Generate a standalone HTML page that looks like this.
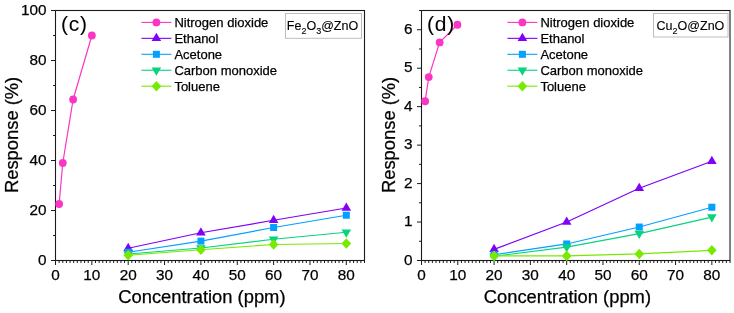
<!DOCTYPE html>
<html><head><meta charset="utf-8"><style>
html,body{margin:0;padding:0;background:#fff;}
svg{display:block;will-change:transform;}
text{font-family:"Liberation Sans",sans-serif;fill:#000;stroke:#000;stroke-width:0.25px;}
.tk{font-size:15.3px;}
.ti{font-size:18.35px;}
.lg{font-size:13px;}
.lb{font-size:21px;stroke-width:0.05px;}
.bx{font-size:12.5px;stroke-width:0.12px;}
.sb{font-size:9px;}
</style></head><body>
<svg width="734" height="313" viewBox="0 0 734 313">
<rect x="55.5" y="10.5" width="309.0" height="250.0" fill="none" stroke="#1a1a1a" stroke-width="1.1"/>
<line x1="55.50" y1="260.5" x2="55.50" y2="265.0" stroke="#1a1a1a" stroke-width="1"/>
<line x1="59.14" y1="260.5" x2="59.14" y2="263.0" stroke="#1a1a1a" stroke-width="1"/>
<line x1="62.77" y1="260.5" x2="62.77" y2="263.0" stroke="#1a1a1a" stroke-width="1"/>
<line x1="66.41" y1="260.5" x2="66.41" y2="263.0" stroke="#1a1a1a" stroke-width="1"/>
<line x1="70.04" y1="260.5" x2="70.04" y2="263.0" stroke="#1a1a1a" stroke-width="1"/>
<line x1="73.68" y1="260.5" x2="73.68" y2="263.0" stroke="#1a1a1a" stroke-width="1"/>
<line x1="77.31" y1="260.5" x2="77.31" y2="263.0" stroke="#1a1a1a" stroke-width="1"/>
<line x1="80.95" y1="260.5" x2="80.95" y2="263.0" stroke="#1a1a1a" stroke-width="1"/>
<line x1="84.58" y1="260.5" x2="84.58" y2="263.0" stroke="#1a1a1a" stroke-width="1"/>
<line x1="88.22" y1="260.5" x2="88.22" y2="263.0" stroke="#1a1a1a" stroke-width="1"/>
<line x1="91.85" y1="260.5" x2="91.85" y2="265.0" stroke="#1a1a1a" stroke-width="1"/>
<line x1="95.49" y1="260.5" x2="95.49" y2="263.0" stroke="#1a1a1a" stroke-width="1"/>
<line x1="99.12" y1="260.5" x2="99.12" y2="263.0" stroke="#1a1a1a" stroke-width="1"/>
<line x1="102.76" y1="260.5" x2="102.76" y2="263.0" stroke="#1a1a1a" stroke-width="1"/>
<line x1="106.39" y1="260.5" x2="106.39" y2="263.0" stroke="#1a1a1a" stroke-width="1"/>
<line x1="110.03" y1="260.5" x2="110.03" y2="263.0" stroke="#1a1a1a" stroke-width="1"/>
<line x1="113.66" y1="260.5" x2="113.66" y2="263.0" stroke="#1a1a1a" stroke-width="1"/>
<line x1="117.30" y1="260.5" x2="117.30" y2="263.0" stroke="#1a1a1a" stroke-width="1"/>
<line x1="120.94" y1="260.5" x2="120.94" y2="263.0" stroke="#1a1a1a" stroke-width="1"/>
<line x1="124.57" y1="260.5" x2="124.57" y2="263.0" stroke="#1a1a1a" stroke-width="1"/>
<line x1="128.21" y1="260.5" x2="128.21" y2="265.0" stroke="#1a1a1a" stroke-width="1"/>
<line x1="131.84" y1="260.5" x2="131.84" y2="263.0" stroke="#1a1a1a" stroke-width="1"/>
<line x1="135.48" y1="260.5" x2="135.48" y2="263.0" stroke="#1a1a1a" stroke-width="1"/>
<line x1="139.11" y1="260.5" x2="139.11" y2="263.0" stroke="#1a1a1a" stroke-width="1"/>
<line x1="142.75" y1="260.5" x2="142.75" y2="263.0" stroke="#1a1a1a" stroke-width="1"/>
<line x1="146.38" y1="260.5" x2="146.38" y2="263.0" stroke="#1a1a1a" stroke-width="1"/>
<line x1="150.02" y1="260.5" x2="150.02" y2="263.0" stroke="#1a1a1a" stroke-width="1"/>
<line x1="153.65" y1="260.5" x2="153.65" y2="263.0" stroke="#1a1a1a" stroke-width="1"/>
<line x1="157.29" y1="260.5" x2="157.29" y2="263.0" stroke="#1a1a1a" stroke-width="1"/>
<line x1="160.92" y1="260.5" x2="160.92" y2="263.0" stroke="#1a1a1a" stroke-width="1"/>
<line x1="164.56" y1="260.5" x2="164.56" y2="265.0" stroke="#1a1a1a" stroke-width="1"/>
<line x1="168.19" y1="260.5" x2="168.19" y2="263.0" stroke="#1a1a1a" stroke-width="1"/>
<line x1="171.83" y1="260.5" x2="171.83" y2="263.0" stroke="#1a1a1a" stroke-width="1"/>
<line x1="175.46" y1="260.5" x2="175.46" y2="263.0" stroke="#1a1a1a" stroke-width="1"/>
<line x1="179.10" y1="260.5" x2="179.10" y2="263.0" stroke="#1a1a1a" stroke-width="1"/>
<line x1="182.74" y1="260.5" x2="182.74" y2="263.0" stroke="#1a1a1a" stroke-width="1"/>
<line x1="186.37" y1="260.5" x2="186.37" y2="263.0" stroke="#1a1a1a" stroke-width="1"/>
<line x1="190.01" y1="260.5" x2="190.01" y2="263.0" stroke="#1a1a1a" stroke-width="1"/>
<line x1="193.64" y1="260.5" x2="193.64" y2="263.0" stroke="#1a1a1a" stroke-width="1"/>
<line x1="197.28" y1="260.5" x2="197.28" y2="263.0" stroke="#1a1a1a" stroke-width="1"/>
<line x1="200.91" y1="260.5" x2="200.91" y2="265.0" stroke="#1a1a1a" stroke-width="1"/>
<line x1="204.55" y1="260.5" x2="204.55" y2="263.0" stroke="#1a1a1a" stroke-width="1"/>
<line x1="208.18" y1="260.5" x2="208.18" y2="263.0" stroke="#1a1a1a" stroke-width="1"/>
<line x1="211.82" y1="260.5" x2="211.82" y2="263.0" stroke="#1a1a1a" stroke-width="1"/>
<line x1="215.45" y1="260.5" x2="215.45" y2="263.0" stroke="#1a1a1a" stroke-width="1"/>
<line x1="219.09" y1="260.5" x2="219.09" y2="263.0" stroke="#1a1a1a" stroke-width="1"/>
<line x1="222.72" y1="260.5" x2="222.72" y2="263.0" stroke="#1a1a1a" stroke-width="1"/>
<line x1="226.36" y1="260.5" x2="226.36" y2="263.0" stroke="#1a1a1a" stroke-width="1"/>
<line x1="229.99" y1="260.5" x2="229.99" y2="263.0" stroke="#1a1a1a" stroke-width="1"/>
<line x1="233.63" y1="260.5" x2="233.63" y2="263.0" stroke="#1a1a1a" stroke-width="1"/>
<line x1="237.26" y1="260.5" x2="237.26" y2="265.0" stroke="#1a1a1a" stroke-width="1"/>
<line x1="240.90" y1="260.5" x2="240.90" y2="263.0" stroke="#1a1a1a" stroke-width="1"/>
<line x1="244.54" y1="260.5" x2="244.54" y2="263.0" stroke="#1a1a1a" stroke-width="1"/>
<line x1="248.17" y1="260.5" x2="248.17" y2="263.0" stroke="#1a1a1a" stroke-width="1"/>
<line x1="251.81" y1="260.5" x2="251.81" y2="263.0" stroke="#1a1a1a" stroke-width="1"/>
<line x1="255.44" y1="260.5" x2="255.44" y2="263.0" stroke="#1a1a1a" stroke-width="1"/>
<line x1="259.08" y1="260.5" x2="259.08" y2="263.0" stroke="#1a1a1a" stroke-width="1"/>
<line x1="262.71" y1="260.5" x2="262.71" y2="263.0" stroke="#1a1a1a" stroke-width="1"/>
<line x1="266.35" y1="260.5" x2="266.35" y2="263.0" stroke="#1a1a1a" stroke-width="1"/>
<line x1="269.98" y1="260.5" x2="269.98" y2="263.0" stroke="#1a1a1a" stroke-width="1"/>
<line x1="273.62" y1="260.5" x2="273.62" y2="265.0" stroke="#1a1a1a" stroke-width="1"/>
<line x1="277.25" y1="260.5" x2="277.25" y2="263.0" stroke="#1a1a1a" stroke-width="1"/>
<line x1="280.89" y1="260.5" x2="280.89" y2="263.0" stroke="#1a1a1a" stroke-width="1"/>
<line x1="284.52" y1="260.5" x2="284.52" y2="263.0" stroke="#1a1a1a" stroke-width="1"/>
<line x1="288.16" y1="260.5" x2="288.16" y2="263.0" stroke="#1a1a1a" stroke-width="1"/>
<line x1="291.79" y1="260.5" x2="291.79" y2="263.0" stroke="#1a1a1a" stroke-width="1"/>
<line x1="295.43" y1="260.5" x2="295.43" y2="263.0" stroke="#1a1a1a" stroke-width="1"/>
<line x1="299.06" y1="260.5" x2="299.06" y2="263.0" stroke="#1a1a1a" stroke-width="1"/>
<line x1="302.70" y1="260.5" x2="302.70" y2="263.0" stroke="#1a1a1a" stroke-width="1"/>
<line x1="306.34" y1="260.5" x2="306.34" y2="263.0" stroke="#1a1a1a" stroke-width="1"/>
<line x1="309.97" y1="260.5" x2="309.97" y2="265.0" stroke="#1a1a1a" stroke-width="1"/>
<line x1="313.61" y1="260.5" x2="313.61" y2="263.0" stroke="#1a1a1a" stroke-width="1"/>
<line x1="317.24" y1="260.5" x2="317.24" y2="263.0" stroke="#1a1a1a" stroke-width="1"/>
<line x1="320.88" y1="260.5" x2="320.88" y2="263.0" stroke="#1a1a1a" stroke-width="1"/>
<line x1="324.51" y1="260.5" x2="324.51" y2="263.0" stroke="#1a1a1a" stroke-width="1"/>
<line x1="328.15" y1="260.5" x2="328.15" y2="263.0" stroke="#1a1a1a" stroke-width="1"/>
<line x1="331.78" y1="260.5" x2="331.78" y2="263.0" stroke="#1a1a1a" stroke-width="1"/>
<line x1="335.42" y1="260.5" x2="335.42" y2="263.0" stroke="#1a1a1a" stroke-width="1"/>
<line x1="339.05" y1="260.5" x2="339.05" y2="263.0" stroke="#1a1a1a" stroke-width="1"/>
<line x1="342.69" y1="260.5" x2="342.69" y2="263.0" stroke="#1a1a1a" stroke-width="1"/>
<line x1="346.32" y1="260.5" x2="346.32" y2="265.0" stroke="#1a1a1a" stroke-width="1"/>
<line x1="349.96" y1="260.5" x2="349.96" y2="263.0" stroke="#1a1a1a" stroke-width="1"/>
<line x1="353.59" y1="260.5" x2="353.59" y2="263.0" stroke="#1a1a1a" stroke-width="1"/>
<line x1="357.23" y1="260.5" x2="357.23" y2="263.0" stroke="#1a1a1a" stroke-width="1"/>
<line x1="360.86" y1="260.5" x2="360.86" y2="263.0" stroke="#1a1a1a" stroke-width="1"/>
<line x1="364.50" y1="260.5" x2="364.50" y2="263.0" stroke="#1a1a1a" stroke-width="1"/>
<line x1="51.0" y1="260.50" x2="55.5" y2="260.50" stroke="#1a1a1a" stroke-width="1"/>
<line x1="53.0" y1="235.50" x2="55.5" y2="235.50" stroke="#1a1a1a" stroke-width="1"/>
<line x1="51.0" y1="210.50" x2="55.5" y2="210.50" stroke="#1a1a1a" stroke-width="1"/>
<line x1="53.0" y1="185.50" x2="55.5" y2="185.50" stroke="#1a1a1a" stroke-width="1"/>
<line x1="51.0" y1="160.50" x2="55.5" y2="160.50" stroke="#1a1a1a" stroke-width="1"/>
<line x1="53.0" y1="135.50" x2="55.5" y2="135.50" stroke="#1a1a1a" stroke-width="1"/>
<line x1="51.0" y1="110.50" x2="55.5" y2="110.50" stroke="#1a1a1a" stroke-width="1"/>
<line x1="53.0" y1="85.50" x2="55.5" y2="85.50" stroke="#1a1a1a" stroke-width="1"/>
<line x1="51.0" y1="60.50" x2="55.5" y2="60.50" stroke="#1a1a1a" stroke-width="1"/>
<line x1="53.0" y1="35.50" x2="55.5" y2="35.50" stroke="#1a1a1a" stroke-width="1"/>
<line x1="51.0" y1="10.50" x2="55.5" y2="10.50" stroke="#1a1a1a" stroke-width="1"/>
<text x="55.50" y="279.8" text-anchor="middle" class="tk">0</text>
<text x="91.85" y="279.8" text-anchor="middle" class="tk">10</text>
<text x="128.21" y="279.8" text-anchor="middle" class="tk">20</text>
<text x="164.56" y="279.8" text-anchor="middle" class="tk">30</text>
<text x="200.91" y="279.8" text-anchor="middle" class="tk">40</text>
<text x="237.26" y="279.8" text-anchor="middle" class="tk">50</text>
<text x="273.62" y="279.8" text-anchor="middle" class="tk">60</text>
<text x="309.97" y="279.8" text-anchor="middle" class="tk">70</text>
<text x="346.32" y="279.8" text-anchor="middle" class="tk">80</text>
<text x="46.6" y="264.60" text-anchor="end" class="tk">0</text>
<text x="46.6" y="214.60" text-anchor="end" class="tk">20</text>
<text x="46.6" y="164.60" text-anchor="end" class="tk">40</text>
<text x="46.6" y="114.60" text-anchor="end" class="tk">60</text>
<text x="46.6" y="64.60" text-anchor="end" class="tk">80</text>
<text x="46.6" y="14.60" text-anchor="end" class="tk">100</text>
<text x="201.9" y="302.6" text-anchor="middle" class="ti">Concentration (ppm)</text>
<text transform="translate(17.8,134.9) rotate(-90)" text-anchor="middle" class="ti">Response (%)</text>
<polyline points="59.14,204.00 62.77,163.00 73.13,99.50 91.85,35.50" fill="none" stroke="#fb36c2" stroke-width="1.2"/>
<circle cx="59.14" cy="204.00" r="3.9" fill="#fb36c2"/>
<circle cx="62.77" cy="163.00" r="3.9" fill="#fb36c2"/>
<circle cx="73.13" cy="99.50" r="3.9" fill="#fb36c2"/>
<circle cx="91.85" cy="35.50" r="3.9" fill="#fb36c2"/>
<polyline points="128.21,248.25 200.91,232.75 273.62,220.25 346.32,208.00" fill="none" stroke="#8000f8" stroke-width="1.2"/>
<path d="M128.21 242.72L133.01 251.02L123.41 251.02Z" fill="#8000f8"/>
<path d="M200.91 227.22L205.71 235.52L196.11 235.52Z" fill="#8000f8"/>
<path d="M273.62 214.72L278.42 223.02L268.82 223.02Z" fill="#8000f8"/>
<path d="M346.32 202.47L351.12 210.77L341.52 210.77Z" fill="#8000f8"/>
<polyline points="128.21,252.25 200.91,241.12 273.62,227.50 346.32,215.25" fill="none" stroke="#04a0ff" stroke-width="1.2"/>
<rect x="124.71" y="248.75" width="7" height="7" fill="#04a0ff"/>
<rect x="197.41" y="237.62" width="7" height="7" fill="#04a0ff"/>
<rect x="270.12" y="224.00" width="7" height="7" fill="#04a0ff"/>
<rect x="342.82" y="211.75" width="7" height="7" fill="#04a0ff"/>
<polyline points="128.21,254.00 200.91,248.00 273.62,239.25 346.32,232.25" fill="none" stroke="#06d47e" stroke-width="1.2"/>
<path d="M128.21 259.53L133.01 251.23L123.41 251.23Z" fill="#06d47e"/>
<path d="M200.91 253.53L205.71 245.23L196.11 245.23Z" fill="#06d47e"/>
<path d="M273.62 244.78L278.42 236.48L268.82 236.48Z" fill="#06d47e"/>
<path d="M346.32 237.78L351.12 229.48L341.52 229.48Z" fill="#06d47e"/>
<polyline points="128.21,255.25 200.91,249.75 273.62,244.50 346.32,243.50" fill="none" stroke="#78ea00" stroke-width="1.2"/>
<path d="M128.21 249.95L133.01 255.25L128.21 260.55L123.41 255.25Z" fill="#78ea00"/>
<path d="M200.91 244.45L205.71 249.75L200.91 255.05L196.11 249.75Z" fill="#78ea00"/>
<path d="M273.62 239.20L278.42 244.50L273.62 249.80L268.82 244.50Z" fill="#78ea00"/>
<path d="M346.32 238.20L351.12 243.50L346.32 248.80L341.52 243.50Z" fill="#78ea00"/>
<line x1="141.4" y1="22.40" x2="171.4" y2="22.40" stroke="#fb36c2" stroke-width="1.1"/>
<circle cx="156.40" cy="22.40" r="3.9" fill="#fb36c2"/>
<text x="174.4" y="26.80" class="lg">Nitrogen dioxide</text>
<line x1="141.4" y1="38.35" x2="171.4" y2="38.35" stroke="#8000f8" stroke-width="1.1"/>
<path d="M156.40 32.82L161.20 41.12L151.60 41.12Z" fill="#8000f8"/>
<text x="174.4" y="42.75" class="lg">Ethanol</text>
<line x1="141.4" y1="54.30" x2="171.4" y2="54.30" stroke="#04a0ff" stroke-width="1.1"/>
<rect x="152.90" y="50.80" width="7" height="7" fill="#04a0ff"/>
<text x="174.4" y="58.70" class="lg">Acetone</text>
<line x1="141.4" y1="70.25" x2="171.4" y2="70.25" stroke="#06d47e" stroke-width="1.1"/>
<path d="M156.40 75.78L161.20 67.48L151.60 67.48Z" fill="#06d47e"/>
<text x="174.4" y="74.65" class="lg">Carbon monoxide</text>
<line x1="141.4" y1="86.20" x2="171.4" y2="86.20" stroke="#78ea00" stroke-width="1.1"/>
<path d="M156.40 80.90L161.20 86.20L156.40 91.50L151.60 86.20Z" fill="#78ea00"/>
<text x="174.4" y="90.60" class="lg">Toluene</text>
<text x="60.9" y="31.1" class="lb" letter-spacing="0.8">(c)</text>
<rect x="285.5" y="13.5" width="76" height="24.8" fill="#fff" stroke="#bdbdbd" stroke-width="1"/>
<text x="286.8" y="29.9" class="bx">Fe<tspan dy="4" class="sb">2</tspan><tspan dy="-4">O</tspan><tspan dy="4" class="sb">3</tspan><tspan dy="-4">@ZnO</tspan></text>
<rect x="421.5" y="10.5" width="308.5" height="250.0" fill="none" stroke="#1a1a1a" stroke-width="1.1"/>
<line x1="421.50" y1="260.5" x2="421.50" y2="265.0" stroke="#1a1a1a" stroke-width="1"/>
<line x1="425.13" y1="260.5" x2="425.13" y2="263.0" stroke="#1a1a1a" stroke-width="1"/>
<line x1="428.76" y1="260.5" x2="428.76" y2="263.0" stroke="#1a1a1a" stroke-width="1"/>
<line x1="432.39" y1="260.5" x2="432.39" y2="263.0" stroke="#1a1a1a" stroke-width="1"/>
<line x1="436.02" y1="260.5" x2="436.02" y2="263.0" stroke="#1a1a1a" stroke-width="1"/>
<line x1="439.65" y1="260.5" x2="439.65" y2="263.0" stroke="#1a1a1a" stroke-width="1"/>
<line x1="443.28" y1="260.5" x2="443.28" y2="263.0" stroke="#1a1a1a" stroke-width="1"/>
<line x1="446.91" y1="260.5" x2="446.91" y2="263.0" stroke="#1a1a1a" stroke-width="1"/>
<line x1="450.54" y1="260.5" x2="450.54" y2="263.0" stroke="#1a1a1a" stroke-width="1"/>
<line x1="454.16" y1="260.5" x2="454.16" y2="263.0" stroke="#1a1a1a" stroke-width="1"/>
<line x1="457.79" y1="260.5" x2="457.79" y2="265.0" stroke="#1a1a1a" stroke-width="1"/>
<line x1="461.42" y1="260.5" x2="461.42" y2="263.0" stroke="#1a1a1a" stroke-width="1"/>
<line x1="465.05" y1="260.5" x2="465.05" y2="263.0" stroke="#1a1a1a" stroke-width="1"/>
<line x1="468.68" y1="260.5" x2="468.68" y2="263.0" stroke="#1a1a1a" stroke-width="1"/>
<line x1="472.31" y1="260.5" x2="472.31" y2="263.0" stroke="#1a1a1a" stroke-width="1"/>
<line x1="475.94" y1="260.5" x2="475.94" y2="263.0" stroke="#1a1a1a" stroke-width="1"/>
<line x1="479.57" y1="260.5" x2="479.57" y2="263.0" stroke="#1a1a1a" stroke-width="1"/>
<line x1="483.20" y1="260.5" x2="483.20" y2="263.0" stroke="#1a1a1a" stroke-width="1"/>
<line x1="486.83" y1="260.5" x2="486.83" y2="263.0" stroke="#1a1a1a" stroke-width="1"/>
<line x1="490.46" y1="260.5" x2="490.46" y2="263.0" stroke="#1a1a1a" stroke-width="1"/>
<line x1="494.09" y1="260.5" x2="494.09" y2="265.0" stroke="#1a1a1a" stroke-width="1"/>
<line x1="497.72" y1="260.5" x2="497.72" y2="263.0" stroke="#1a1a1a" stroke-width="1"/>
<line x1="501.35" y1="260.5" x2="501.35" y2="263.0" stroke="#1a1a1a" stroke-width="1"/>
<line x1="504.98" y1="260.5" x2="504.98" y2="263.0" stroke="#1a1a1a" stroke-width="1"/>
<line x1="508.61" y1="260.5" x2="508.61" y2="263.0" stroke="#1a1a1a" stroke-width="1"/>
<line x1="512.24" y1="260.5" x2="512.24" y2="263.0" stroke="#1a1a1a" stroke-width="1"/>
<line x1="515.86" y1="260.5" x2="515.86" y2="263.0" stroke="#1a1a1a" stroke-width="1"/>
<line x1="519.49" y1="260.5" x2="519.49" y2="263.0" stroke="#1a1a1a" stroke-width="1"/>
<line x1="523.12" y1="260.5" x2="523.12" y2="263.0" stroke="#1a1a1a" stroke-width="1"/>
<line x1="526.75" y1="260.5" x2="526.75" y2="263.0" stroke="#1a1a1a" stroke-width="1"/>
<line x1="530.38" y1="260.5" x2="530.38" y2="265.0" stroke="#1a1a1a" stroke-width="1"/>
<line x1="534.01" y1="260.5" x2="534.01" y2="263.0" stroke="#1a1a1a" stroke-width="1"/>
<line x1="537.64" y1="260.5" x2="537.64" y2="263.0" stroke="#1a1a1a" stroke-width="1"/>
<line x1="541.27" y1="260.5" x2="541.27" y2="263.0" stroke="#1a1a1a" stroke-width="1"/>
<line x1="544.90" y1="260.5" x2="544.90" y2="263.0" stroke="#1a1a1a" stroke-width="1"/>
<line x1="548.53" y1="260.5" x2="548.53" y2="263.0" stroke="#1a1a1a" stroke-width="1"/>
<line x1="552.16" y1="260.5" x2="552.16" y2="263.0" stroke="#1a1a1a" stroke-width="1"/>
<line x1="555.79" y1="260.5" x2="555.79" y2="263.0" stroke="#1a1a1a" stroke-width="1"/>
<line x1="559.42" y1="260.5" x2="559.42" y2="263.0" stroke="#1a1a1a" stroke-width="1"/>
<line x1="563.05" y1="260.5" x2="563.05" y2="263.0" stroke="#1a1a1a" stroke-width="1"/>
<line x1="566.68" y1="260.5" x2="566.68" y2="265.0" stroke="#1a1a1a" stroke-width="1"/>
<line x1="570.31" y1="260.5" x2="570.31" y2="263.0" stroke="#1a1a1a" stroke-width="1"/>
<line x1="573.94" y1="260.5" x2="573.94" y2="263.0" stroke="#1a1a1a" stroke-width="1"/>
<line x1="577.56" y1="260.5" x2="577.56" y2="263.0" stroke="#1a1a1a" stroke-width="1"/>
<line x1="581.19" y1="260.5" x2="581.19" y2="263.0" stroke="#1a1a1a" stroke-width="1"/>
<line x1="584.82" y1="260.5" x2="584.82" y2="263.0" stroke="#1a1a1a" stroke-width="1"/>
<line x1="588.45" y1="260.5" x2="588.45" y2="263.0" stroke="#1a1a1a" stroke-width="1"/>
<line x1="592.08" y1="260.5" x2="592.08" y2="263.0" stroke="#1a1a1a" stroke-width="1"/>
<line x1="595.71" y1="260.5" x2="595.71" y2="263.0" stroke="#1a1a1a" stroke-width="1"/>
<line x1="599.34" y1="260.5" x2="599.34" y2="263.0" stroke="#1a1a1a" stroke-width="1"/>
<line x1="602.97" y1="260.5" x2="602.97" y2="265.0" stroke="#1a1a1a" stroke-width="1"/>
<line x1="606.60" y1="260.5" x2="606.60" y2="263.0" stroke="#1a1a1a" stroke-width="1"/>
<line x1="610.23" y1="260.5" x2="610.23" y2="263.0" stroke="#1a1a1a" stroke-width="1"/>
<line x1="613.86" y1="260.5" x2="613.86" y2="263.0" stroke="#1a1a1a" stroke-width="1"/>
<line x1="617.49" y1="260.5" x2="617.49" y2="263.0" stroke="#1a1a1a" stroke-width="1"/>
<line x1="621.12" y1="260.5" x2="621.12" y2="263.0" stroke="#1a1a1a" stroke-width="1"/>
<line x1="624.75" y1="260.5" x2="624.75" y2="263.0" stroke="#1a1a1a" stroke-width="1"/>
<line x1="628.38" y1="260.5" x2="628.38" y2="263.0" stroke="#1a1a1a" stroke-width="1"/>
<line x1="632.01" y1="260.5" x2="632.01" y2="263.0" stroke="#1a1a1a" stroke-width="1"/>
<line x1="635.64" y1="260.5" x2="635.64" y2="263.0" stroke="#1a1a1a" stroke-width="1"/>
<line x1="639.26" y1="260.5" x2="639.26" y2="265.0" stroke="#1a1a1a" stroke-width="1"/>
<line x1="642.89" y1="260.5" x2="642.89" y2="263.0" stroke="#1a1a1a" stroke-width="1"/>
<line x1="646.52" y1="260.5" x2="646.52" y2="263.0" stroke="#1a1a1a" stroke-width="1"/>
<line x1="650.15" y1="260.5" x2="650.15" y2="263.0" stroke="#1a1a1a" stroke-width="1"/>
<line x1="653.78" y1="260.5" x2="653.78" y2="263.0" stroke="#1a1a1a" stroke-width="1"/>
<line x1="657.41" y1="260.5" x2="657.41" y2="263.0" stroke="#1a1a1a" stroke-width="1"/>
<line x1="661.04" y1="260.5" x2="661.04" y2="263.0" stroke="#1a1a1a" stroke-width="1"/>
<line x1="664.67" y1="260.5" x2="664.67" y2="263.0" stroke="#1a1a1a" stroke-width="1"/>
<line x1="668.30" y1="260.5" x2="668.30" y2="263.0" stroke="#1a1a1a" stroke-width="1"/>
<line x1="671.93" y1="260.5" x2="671.93" y2="263.0" stroke="#1a1a1a" stroke-width="1"/>
<line x1="675.56" y1="260.5" x2="675.56" y2="265.0" stroke="#1a1a1a" stroke-width="1"/>
<line x1="679.19" y1="260.5" x2="679.19" y2="263.0" stroke="#1a1a1a" stroke-width="1"/>
<line x1="682.82" y1="260.5" x2="682.82" y2="263.0" stroke="#1a1a1a" stroke-width="1"/>
<line x1="686.45" y1="260.5" x2="686.45" y2="263.0" stroke="#1a1a1a" stroke-width="1"/>
<line x1="690.08" y1="260.5" x2="690.08" y2="263.0" stroke="#1a1a1a" stroke-width="1"/>
<line x1="693.71" y1="260.5" x2="693.71" y2="263.0" stroke="#1a1a1a" stroke-width="1"/>
<line x1="697.34" y1="260.5" x2="697.34" y2="263.0" stroke="#1a1a1a" stroke-width="1"/>
<line x1="700.96" y1="260.5" x2="700.96" y2="263.0" stroke="#1a1a1a" stroke-width="1"/>
<line x1="704.59" y1="260.5" x2="704.59" y2="263.0" stroke="#1a1a1a" stroke-width="1"/>
<line x1="708.22" y1="260.5" x2="708.22" y2="263.0" stroke="#1a1a1a" stroke-width="1"/>
<line x1="711.85" y1="260.5" x2="711.85" y2="265.0" stroke="#1a1a1a" stroke-width="1"/>
<line x1="715.48" y1="260.5" x2="715.48" y2="263.0" stroke="#1a1a1a" stroke-width="1"/>
<line x1="719.11" y1="260.5" x2="719.11" y2="263.0" stroke="#1a1a1a" stroke-width="1"/>
<line x1="722.74" y1="260.5" x2="722.74" y2="263.0" stroke="#1a1a1a" stroke-width="1"/>
<line x1="726.37" y1="260.5" x2="726.37" y2="263.0" stroke="#1a1a1a" stroke-width="1"/>
<line x1="730.00" y1="260.5" x2="730.00" y2="263.0" stroke="#1a1a1a" stroke-width="1"/>
<line x1="417.0" y1="260.50" x2="421.5" y2="260.50" stroke="#1a1a1a" stroke-width="1"/>
<line x1="419.0" y1="241.27" x2="421.5" y2="241.27" stroke="#1a1a1a" stroke-width="1"/>
<line x1="417.0" y1="222.04" x2="421.5" y2="222.04" stroke="#1a1a1a" stroke-width="1"/>
<line x1="419.0" y1="202.81" x2="421.5" y2="202.81" stroke="#1a1a1a" stroke-width="1"/>
<line x1="417.0" y1="183.58" x2="421.5" y2="183.58" stroke="#1a1a1a" stroke-width="1"/>
<line x1="419.0" y1="164.35" x2="421.5" y2="164.35" stroke="#1a1a1a" stroke-width="1"/>
<line x1="417.0" y1="145.12" x2="421.5" y2="145.12" stroke="#1a1a1a" stroke-width="1"/>
<line x1="419.0" y1="125.88" x2="421.5" y2="125.88" stroke="#1a1a1a" stroke-width="1"/>
<line x1="417.0" y1="106.65" x2="421.5" y2="106.65" stroke="#1a1a1a" stroke-width="1"/>
<line x1="419.0" y1="87.42" x2="421.5" y2="87.42" stroke="#1a1a1a" stroke-width="1"/>
<line x1="417.0" y1="68.19" x2="421.5" y2="68.19" stroke="#1a1a1a" stroke-width="1"/>
<line x1="419.0" y1="48.96" x2="421.5" y2="48.96" stroke="#1a1a1a" stroke-width="1"/>
<line x1="417.0" y1="29.73" x2="421.5" y2="29.73" stroke="#1a1a1a" stroke-width="1"/>
<line x1="419.0" y1="10.50" x2="421.5" y2="10.50" stroke="#1a1a1a" stroke-width="1"/>
<text x="421.50" y="279.8" text-anchor="middle" class="tk">0</text>
<text x="457.79" y="279.8" text-anchor="middle" class="tk">10</text>
<text x="494.09" y="279.8" text-anchor="middle" class="tk">20</text>
<text x="530.38" y="279.8" text-anchor="middle" class="tk">30</text>
<text x="566.68" y="279.8" text-anchor="middle" class="tk">40</text>
<text x="602.97" y="279.8" text-anchor="middle" class="tk">50</text>
<text x="639.26" y="279.8" text-anchor="middle" class="tk">60</text>
<text x="675.56" y="279.8" text-anchor="middle" class="tk">70</text>
<text x="711.85" y="279.8" text-anchor="middle" class="tk">80</text>
<text x="412.6" y="264.60" text-anchor="end" class="tk">0</text>
<text x="412.6" y="226.14" text-anchor="end" class="tk">1</text>
<text x="412.6" y="187.68" text-anchor="end" class="tk">2</text>
<text x="412.6" y="149.22" text-anchor="end" class="tk">3</text>
<text x="412.6" y="110.75" text-anchor="end" class="tk">4</text>
<text x="412.6" y="72.29" text-anchor="end" class="tk">5</text>
<text x="412.6" y="33.83" text-anchor="end" class="tk">6</text>
<text x="567.4" y="302.6" text-anchor="middle" class="ti">Concentration (ppm)</text>
<text transform="translate(395.1,134.9) rotate(-90)" text-anchor="middle" class="ti">Response (%)</text>
<polyline points="425.13,101.27 428.76,77.04 439.65,42.42 457.43,24.73" fill="none" stroke="#fb36c2" stroke-width="1.2"/>
<circle cx="425.13" cy="101.27" r="3.9" fill="#fb36c2"/>
<circle cx="428.76" cy="77.04" r="3.9" fill="#fb36c2"/>
<circle cx="439.65" cy="42.42" r="3.9" fill="#fb36c2"/>
<circle cx="457.43" cy="24.73" r="3.9" fill="#fb36c2"/>
<polyline points="494.09,249.35 566.68,222.04 639.26,188.19 711.85,161.27" fill="none" stroke="#8000f8" stroke-width="1.2"/>
<path d="M494.09 243.81L498.89 252.11L489.29 252.11Z" fill="#8000f8"/>
<path d="M566.68 216.51L571.48 224.81L561.88 224.81Z" fill="#8000f8"/>
<path d="M639.26 182.66L644.06 190.96L634.46 190.96Z" fill="#8000f8"/>
<path d="M711.85 155.74L716.65 164.04L707.05 164.04Z" fill="#8000f8"/>
<polyline points="494.09,254.73 566.68,243.96 639.26,227.04 711.85,207.23" fill="none" stroke="#04a0ff" stroke-width="1.2"/>
<rect x="490.59" y="251.23" width="7" height="7" fill="#04a0ff"/>
<rect x="563.18" y="240.46" width="7" height="7" fill="#04a0ff"/>
<rect x="635.76" y="223.54" width="7" height="7" fill="#04a0ff"/>
<rect x="708.35" y="203.73" width="7" height="7" fill="#04a0ff"/>
<polyline points="494.09,256.27 566.68,247.04 639.26,233.58 711.85,217.04" fill="none" stroke="#06d47e" stroke-width="1.2"/>
<path d="M494.09 261.80L498.89 253.50L489.29 253.50Z" fill="#06d47e"/>
<path d="M566.68 252.57L571.48 244.27L561.88 244.27Z" fill="#06d47e"/>
<path d="M639.26 239.11L644.06 230.81L634.46 230.81Z" fill="#06d47e"/>
<path d="M711.85 222.57L716.65 214.27L707.05 214.27Z" fill="#06d47e"/>
<polyline points="494.09,255.88 566.68,255.88 639.26,253.96 711.85,250.31" fill="none" stroke="#78ea00" stroke-width="1.2"/>
<path d="M494.09 250.58L498.89 255.88L494.09 261.18L489.29 255.88Z" fill="#78ea00"/>
<path d="M566.68 250.58L571.48 255.88L566.68 261.18L561.88 255.88Z" fill="#78ea00"/>
<path d="M639.26 248.66L644.06 253.96L639.26 259.26L634.46 253.96Z" fill="#78ea00"/>
<path d="M711.85 245.01L716.65 250.31L711.85 255.61L707.05 250.31Z" fill="#78ea00"/>
<line x1="507.4" y1="22.40" x2="537.4" y2="22.40" stroke="#fb36c2" stroke-width="1.1"/>
<circle cx="522.40" cy="22.40" r="3.9" fill="#fb36c2"/>
<text x="540.4" y="26.80" class="lg">Nitrogen dioxide</text>
<line x1="507.4" y1="38.35" x2="537.4" y2="38.35" stroke="#8000f8" stroke-width="1.1"/>
<path d="M522.40 32.82L527.20 41.12L517.60 41.12Z" fill="#8000f8"/>
<text x="540.4" y="42.75" class="lg">Ethanol</text>
<line x1="507.4" y1="54.30" x2="537.4" y2="54.30" stroke="#04a0ff" stroke-width="1.1"/>
<rect x="518.90" y="50.80" width="7" height="7" fill="#04a0ff"/>
<text x="540.4" y="58.70" class="lg">Acetone</text>
<line x1="507.4" y1="70.25" x2="537.4" y2="70.25" stroke="#06d47e" stroke-width="1.1"/>
<path d="M522.40 75.78L527.20 67.48L517.60 67.48Z" fill="#06d47e"/>
<text x="540.4" y="74.65" class="lg">Carbon monoxide</text>
<line x1="507.4" y1="86.20" x2="537.4" y2="86.20" stroke="#78ea00" stroke-width="1.1"/>
<path d="M522.40 80.90L527.20 86.20L522.40 91.50L517.60 86.20Z" fill="#78ea00"/>
<text x="540.4" y="90.60" class="lg">Toluene</text>
<text x="426.9" y="31.1" class="lb" letter-spacing="0.8">(d)</text>
<rect x="653.5" y="13.5" width="74.5" height="23.5" fill="#fff" stroke="#bdbdbd" stroke-width="1"/>
<text x="656.6" y="29.5" class="bx">Cu<tspan dy="4" class="sb">2</tspan><tspan dy="-4">O@ZnO</tspan></text>
</svg>
</body></html>
